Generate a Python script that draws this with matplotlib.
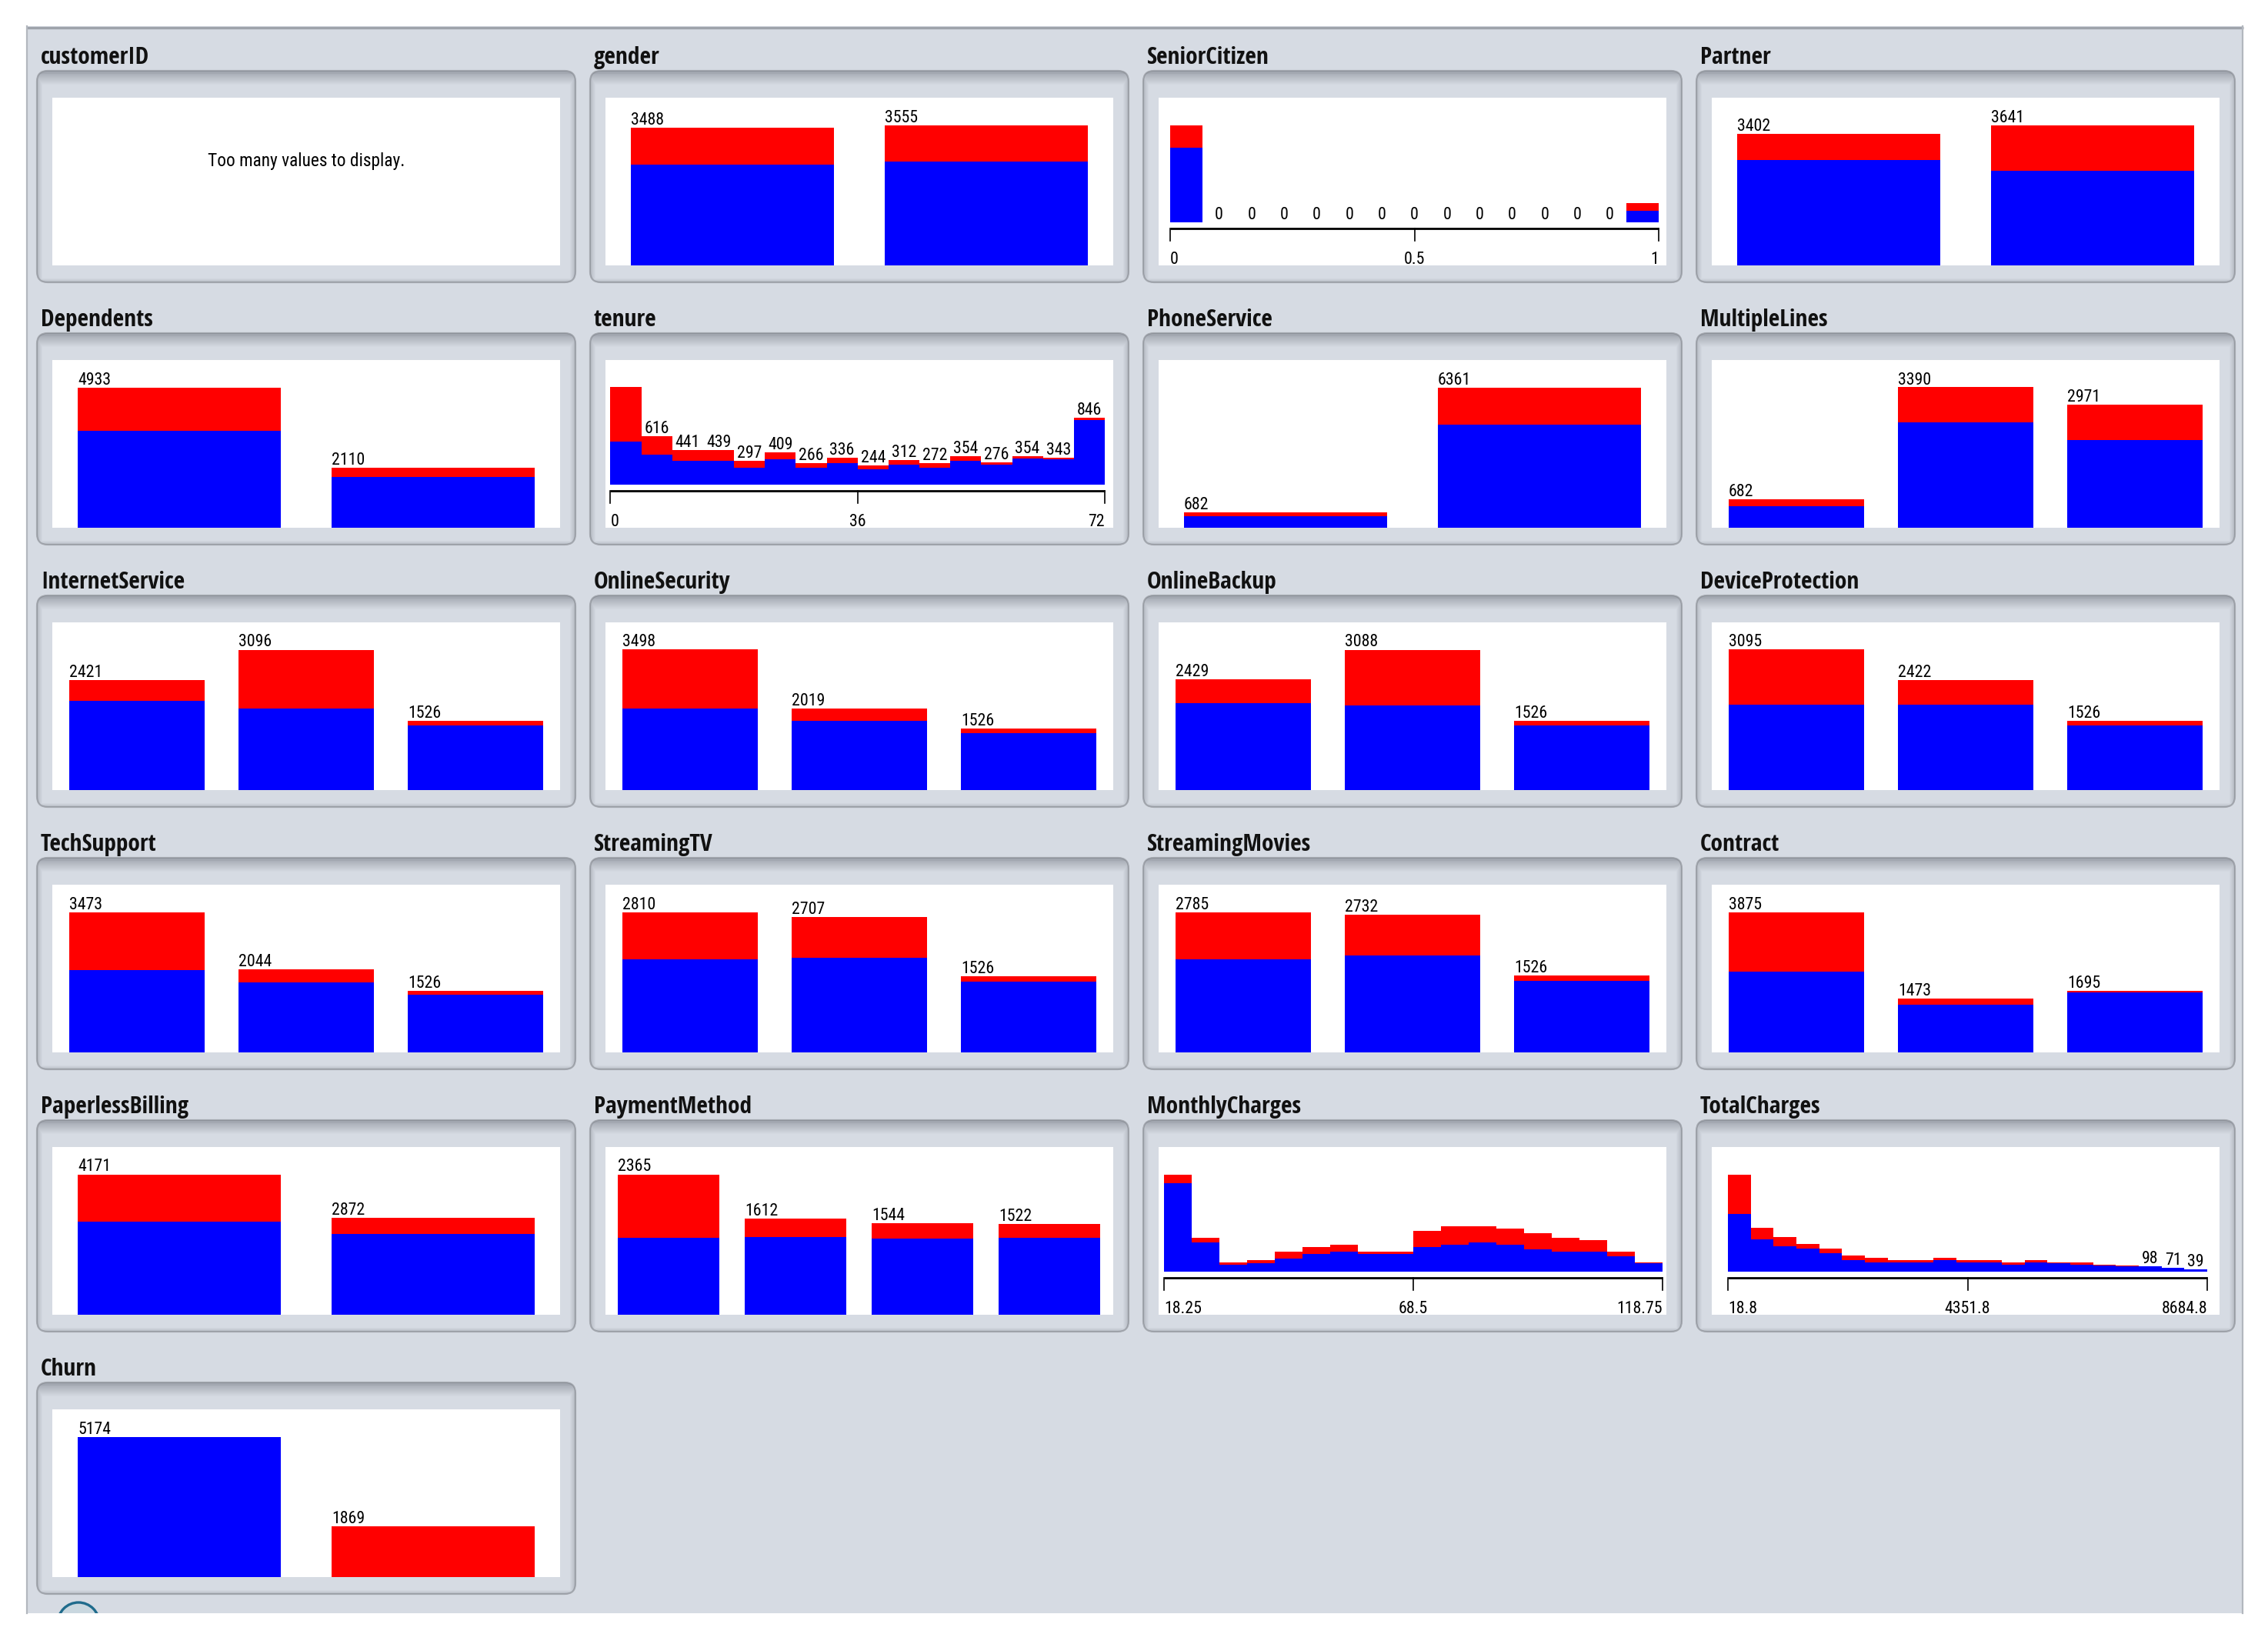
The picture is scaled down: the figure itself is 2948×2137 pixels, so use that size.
import matplotlib
matplotlib.use('Agg')
import matplotlib.pyplot as plt
from matplotlib import font_manager
from matplotlib.font_manager import FontProperties
from matplotlib.textpath import TextPath
from matplotlib.patches import FancyBboxPatch, Rectangle, Circle
import numpy as np

# ------------------------------------------------------------------ data
attr_names = ['customerID', 'gender', 'SeniorCitizen', 'Partner',
              'Dependents', 'tenure', 'PhoneService', 'MultipleLines',
              'InternetService', 'OnlineSecurity', 'OnlineBackup', 'DeviceProtection',
              'TechSupport', 'StreamingTV', 'StreamingMovies', 'Contract',
              'PaperlessBilling', 'PaymentMethod', 'MonthlyCharges', 'TotalCharges',
              'Churn']

gender_cats = ['Female', 'Male']
gender_no = [2549, 2625]
gender_yes = [939, 930]

partner_cats = ['Yes', 'No']
partner_no = [2733, 2441]
partner_yes = [669, 1200]

dependents_cats = ['No', 'Yes']
dependents_no = [3390, 1784]
dependents_yes = [1543, 326]

phone_cats = ['No', 'Yes']
phone_no = [512, 4662]
phone_yes = [170, 1699]

multilines_cats = ['No phone service', 'No', 'Yes']
multilines_no = [512, 2541, 2121]
multilines_yes = [170, 849, 850]

internet_cats = ['DSL', 'Fiber optic', 'No']
internet_no = [1962, 1799, 1413]
internet_yes = [459, 1297, 113]

security_cats = ['No', 'Yes', 'No internet service']
security_no = [2037, 1724, 1413]
security_yes = [1461, 295, 113]

backup_cats = ['Yes', 'No', 'No internet service']
backup_no = [1906, 1855, 1413]
backup_yes = [523, 1233, 113]

protection_cats = ['No', 'Yes', 'No internet service']
protection_no = [1884, 1877, 1413]
protection_yes = [1211, 545, 113]

techsupport_cats = ['No', 'Yes', 'No internet service']
techsupport_no = [2027, 1734, 1413]
techsupport_yes = [1446, 310, 113]

streamtv_cats = ['No', 'Yes', 'No internet service']
streamtv_no = [1868, 1893, 1413]
streamtv_yes = [942, 814, 113]

streammovies_cats = ['No', 'Yes', 'No internet service']
streammovies_no = [1847, 1914, 1413]
streammovies_yes = [938, 818, 113]

contract_cats = ['Month-to-month', 'One year', 'Two year']
contract_no = [2220, 1307, 1647]
contract_yes = [1655, 166, 48]

paperless_cats = ['Yes', 'No']
paperless_no = [2771, 2403]
paperless_yes = [1400, 469]

payment_cats = ['Electronic check', 'Mailed check', 'Bank transfer (automatic)',
                'Credit card (automatic)']
payment_no = [1294, 1304, 1286, 1290]
payment_yes = [1071, 308, 258, 232]

churn_cats = ['No', 'Yes']
churn_no = [5174, 0]
churn_yes = [0, 1869]

# numeric histograms (counts per bin, class No / class Yes)
senior_range = (0.0, 1.0)
senior_ticks = ['0', '0.5', '1']
senior_no = [4508, 0, 0, 0, 0, 0, 0, 0, 0, 0, 0, 0, 0, 0, 666]
senior_yes = [1393, 0, 0, 0, 0, 0, 0, 0, 0, 0, 0, 0, 0, 0, 476]

tenure_range = (0.0, 72.0)
tenure_ticks = ['0', '36', '72']
tenure_no = [544, 382, 296, 295, 214, 323, 208, 270, 191, 250, 216, 297, 248, 327, 317, 816]
tenure_yes = [694, 234, 145, 144, 83, 86, 58, 66, 53, 62, 56, 57, 28, 27, 26, 30]

monthly_range = (18.25, 118.75)
monthly_ticks = ['18.25', '68.5', '118.75']
monthly_no = [1098, 363, 80, 103, 161, 218, 247, 218, 218, 305, 334, 363, 334, 276, 247, 247, 189, 103]
monthly_yes = [112, 58, 26, 32, 86, 87, 87, 29, 29, 199, 225, 196, 196, 199, 174, 145, 58, 3]

total_range = (18.8, 8684.8)
total_ticks = ['18.8', '4351.8', '8684.8']
total_no = [1090, 605, 475, 430, 340, 210, 165, 165, 165, 210, 165, 165, 120, 165, 155, 120, 115, 100, 95, 70, 38]
total_yes = [744, 220, 175, 90, 90, 85, 85, 45, 45, 40, 45, 45, 45, 45, 10, 45, 5, 5, 3, 1, 1]

too_many_text = 'Too many values to display.'

# ------------------------------------------------------------------ style
W_PX, H_PX = 2948, 2137
DPI = 100
BG = '#d6dbe3'
BLUE = '#0000ff'
RED = '#ff0000'

# --- font choice: narrow sans, bold for titles, regular for numbers
FAMILY_OK = ('Liberation Sans', 'Roboto', 'Open Sans', 'Noto Sans', 'DejaVu Sans',
             'Lato', 'Inter')
BAD_WORDS = ('CJK', 'Mono', 'Serif', 'Display', 'Math', 'Symbols', 'Emoji')


def weight_num(w):
    if isinstance(w, (int, float)):
        return int(w)
    return {'normal': 400, 'regular': 400, 'book': 400, 'medium': 500,
            'semibold': 600, 'demibold': 600, 'bold': 700, 'light': 300,
            'heavy': 800, 'black': 900}.get(str(w).lower(), 400)


def pick_font(weight, target):
    best = None
    for f in font_manager.fontManager.ttflist:
        name = f.name
        if f.style != 'normal' or weight_num(f.weight) != weight:
            continue
        if not name.startswith(FAMILY_OK) or any(b in name for b in BAD_WORDS):
            continue
        rest = name
        for p in FAMILY_OK:
            if name.startswith(p):
                rest = name[len(p):].strip()
        if rest not in ('', 'Narrow', 'Condensed', 'SemiCondensed', 'Semi Condensed'):
            continue
        try:
            fp = FontProperties(fname=f.fname)
            w = TextPath((0, 0), 'customerID', size=100, prop=fp).get_extents().width
            h = TextPath((0, 0), 'D', size=100, prop=fp).get_extents().height
        except Exception:
            continue
        if w <= 0:
            continue
        score = abs(h / w - target)
        if best is None or score < best[0]:
            best = (score, f.fname)
    return best[1] if best else None


reg_file = pick_font(400, 0.168)
bold_file = pick_font(700, 0.165)
if reg_file is not None:
    FP_REG = FontProperties(fname=reg_file)
else:
    FP_REG = FontProperties(family='DejaVu Sans')
if bold_file is not None:
    FP_BOLD = FontProperties(fname=bold_file)
elif reg_file is not None:
    FP_BOLD = FontProperties(fname=reg_file, weight='bold')
else:
    FP_BOLD = FontProperties(family='DejaVu Sans', weight='bold')


def size_for(fp, sample, target_px):
    w = TextPath((0, 0), sample, size=100, prop=fp).get_extents().width
    return target_px * 72.0 / DPI * 100.0 / w


def font(fp, size):
    p = fp.copy()
    p.set_size(size)
    return p


F_TITLE = font(FP_BOLD, size_for(FP_BOLD, 'customerID', 139))
F_VAL = font(FP_REG, size_for(FP_REG, '3488', 41))
F_MSG = font(FP_REG, size_for(FP_REG, too_many_text, 254))

COL_X = [48, 767, 1486, 2205]
ROW_Y0, ROW_DY = 92, 341
BOX_W, BOX_H = 700, 275
WH_L, WH_R, WH_T, WH_B = 20, 20, 35, 22.5
WH_W = BOX_W - WH_L - WH_R
WH_H = BOX_H - WH_T - WH_B
TOP_GAP = 35.5        # px from white top to tallest bar
HIST_BASE = 56        # px from white bottom to histogram baseline

fig = plt.figure(figsize=(W_PX / DPI, H_PX / DPI), dpi=DPI)
fig.patch.set_facecolor('white')
bg = fig.add_axes([0, 0, 1, 1], zorder=0)
bg.set_xlim(0, W_PX)
bg.set_ylim(H_PX, 0)
bg.axis('off')

# outer panel
PX0, PY0, PX1, PY1 = 34, 34, 2916, 2097
panel = Rectangle((PX0, PY0), PX1 - PX0, PY1 - PY0, fc=BG, ec='none', zorder=1)
bg.add_patch(panel)
bg.plot([PX0, PX1], [PY0 + 1.5, PY0 + 1.5], color='#9ea3ab', lw=2.4, zorder=2,
        solid_capstyle='butt')
bg.plot([PX0 + 1, PX0 + 1], [PY0, PY1], color='#b3b7be', lw=1.6, zorder=2)
bg.plot([PX1 - 1, PX1 - 1], [PY0, PY1], color='#b3b7be', lw=1.6, zorder=2)

# weka icon partially visible at the bottom
icon = Circle((102, 2110), 27, fc='#c9d7df', ec='#1f6b8c', lw=2.4, zorder=3)
bg.add_patch(icon)
icon.set_clip_path(panel)


# shading image for the rounded boxes
def box_shade():
    h, w = int(BOX_H), int(BOX_W)
    yy = np.arange(h)[:, None].astype(float)
    xx = np.arange(w)[None, :].astype(float)
    top = np.where(yy < 4, 0.55, np.clip(0.45 * (1 - (yy - 4) / 14.0), 0, 1))
    bot = np.clip(0.30 * (1 - (h - 1 - yy) / 5.0), 0, 1)
    left = np.clip(0.35 * (1 - xx / 7.0), 0, 1)
    right = np.clip(0.35 * (1 - (w - 1 - xx) / 7.0), 0, 1)
    a = np.maximum(np.maximum(top, bot), np.maximum(left, right))
    img = np.zeros((h, w, 4))
    img[..., 0] = 0x7a / 255
    img[..., 1] = 0x7f / 255
    img[..., 2] = 0x88 / 255
    img[..., 3] = a
    return img


SHADE = box_shade()


def make_box(col, row, title):
    x0 = COL_X[col]
    y0 = ROW_Y0 + ROW_DY * row
    box = FancyBboxPatch((x0, y0), BOX_W, BOX_H,
                         boxstyle='round,pad=0,rounding_size=14',
                         fc=BG, ec='#a6aab1', lw=1.6, zorder=3)
    bg.add_patch(box)
    im = bg.imshow(SHADE, extent=[x0, x0 + BOX_W, y0 + BOX_H, y0], zorder=4,
                   interpolation='bilinear')
    im.set_clip_path(box)
    bg.text(x0 + 5, y0 - 9, title, fontproperties=F_TITLE, color='#111111',
            ha='left', va='baseline', zorder=5)
    wl = x0 + WH_L
    wt = y0 + WH_T
    ax = fig.add_axes([wl / W_PX, 1 - (wt + WH_H) / H_PX, WH_W / W_PX, WH_H / H_PX],
                      zorder=6)
    ax.set_facecolor('white')
    for s in ax.spines.values():
        s.set_visible(False)
    ax.set_xticks([])
    ax.set_yticks([])
    return ax


def draw_nominal(ax, no, yes):
    no = np.array(no)
    yes = np.array(yes)
    tot = no + yes
    k = len(tot)
    x = np.arange(k) + 0.1
    ax.bar(x, no, width=0.8, align='edge', color=BLUE, lw=0)
    ax.bar(x, yes, bottom=no, width=0.8, align='edge', color=RED, lw=0)
    ax.set_xlim(0, k)
    ax.set_ylim(0, tot.max() * WH_H / (WH_H - TOP_GAP))
    for xi, t in zip(x, tot):
        ax.annotate(str(t), (xi, t), xytext=(0, 4), textcoords='offset pixels',
                    ha='left', va='baseline', fontproperties=F_VAL, clip_on=False)


def draw_hist(ax, no, yes, rng, ticks, pad_l, pad_r, max_digits):
    no = np.array(no)
    yes = np.array(yes)
    tot = no + yes
    n = len(tot)
    lo, hi = rng
    edges = np.linspace(lo, hi, n + 1)
    bw = (hi - lo) / n
    ax.bar(edges[:-1], no, width=bw, align='edge', color=BLUE, lw=0)
    ax.bar(edges[:-1], yes, bottom=no, width=bw, align='edge', color=RED, lw=0)
    s = (hi - lo) / (WH_W - pad_l - pad_r)
    ax.set_xlim(lo - pad_l * s, hi + pad_r * s)
    maxh = WH_H - TOP_GAP - HIST_BASE
    k = tot.max() / maxh
    ax.set_ylim(-HIST_BASE * k, (WH_H - HIST_BASE) * k)
    for xi, t in zip(edges[:-1] + bw / 2, tot):
        if len(str(t)) <= max_digits:
            ax.annotate(str(t), (xi, t), xytext=(0, 4), textcoords='offset pixels',
                        ha='center', va='baseline', fontproperties=F_VAL, clip_on=False)
    ya = -8 * k
    ax.plot([lo, hi], [ya, ya], color='black', lw=2.0, solid_capstyle='butt',
            clip_on=False)
    mid = (lo + hi) / 2
    for xt in (lo, mid, hi):
        ax.plot([xt, xt], [ya, -24 * k], color='black', lw=1.2, clip_on=False)
    yl = -54.5 * k
    ax.text(lo, yl, ticks[0], ha='left', va='baseline', fontproperties=F_VAL)
    ax.text(mid, yl, ticks[1], ha='center', va='baseline', fontproperties=F_VAL)
    ax.text(hi, yl, ticks[2], ha='right', va='baseline', fontproperties=F_VAL)


# ---- row 1
ax = make_box(0, 0, attr_names[0])
ax.set_xlim(0, 1)
ax.set_ylim(0, 1)
ax.text(0.5, 0.62, too_many_text, ha='center', va='center', fontproperties=F_MSG,
        transform=ax.transAxes)

draw_nominal(make_box(1, 0, attr_names[1]), gender_no, gender_yes)
draw_hist(make_box(2, 0, attr_names[2]), senior_no, senior_yes, senior_range,
          senior_ticks, 15, 10, 3)
draw_nominal(make_box(3, 0, attr_names[3]), partner_no, partner_yes)

# ---- row 2
draw_nominal(make_box(0, 1, attr_names[4]), dependents_no, dependents_yes)
draw_hist(make_box(1, 1, attr_names[5]), tenure_no, tenure_yes, tenure_range,
          tenure_ticks, 6.5, 11, 3)
draw_nominal(make_box(2, 1, attr_names[6]), phone_no, phone_yes)
draw_nominal(make_box(3, 1, attr_names[7]), multilines_no, multilines_yes)

# ---- row 3
draw_nominal(make_box(0, 2, attr_names[8]), internet_no, internet_yes)
draw_nominal(make_box(1, 2, attr_names[9]), security_no, security_yes)
draw_nominal(make_box(2, 2, attr_names[10]), backup_no, backup_yes)
draw_nominal(make_box(3, 2, attr_names[11]), protection_no, protection_yes)

# ---- row 4
draw_nominal(make_box(0, 3, attr_names[12]), techsupport_no, techsupport_yes)
draw_nominal(make_box(1, 3, attr_names[13]), streamtv_no, streamtv_yes)
draw_nominal(make_box(2, 3, attr_names[14]), streammovies_no, streammovies_yes)
draw_nominal(make_box(3, 3, attr_names[15]), contract_no, contract_yes)

# ---- row 5
draw_nominal(make_box(0, 4, attr_names[16]), paperless_no, paperless_yes)
draw_nominal(make_box(1, 4, attr_names[17]), payment_no, payment_yes)
draw_hist(make_box(2, 4, attr_names[18]), monthly_no, monthly_yes, monthly_range,
          monthly_ticks, 7, 5, 0)
draw_hist(make_box(3, 4, attr_names[19]), total_no, total_yes, total_range,
          total_ticks, 21, 16, 2)

# ---- row 6
draw_nominal(make_box(0, 5, attr_names[20]), churn_no, churn_yes)

fig.savefig('out.png', dpi=DPI, facecolor='white')
